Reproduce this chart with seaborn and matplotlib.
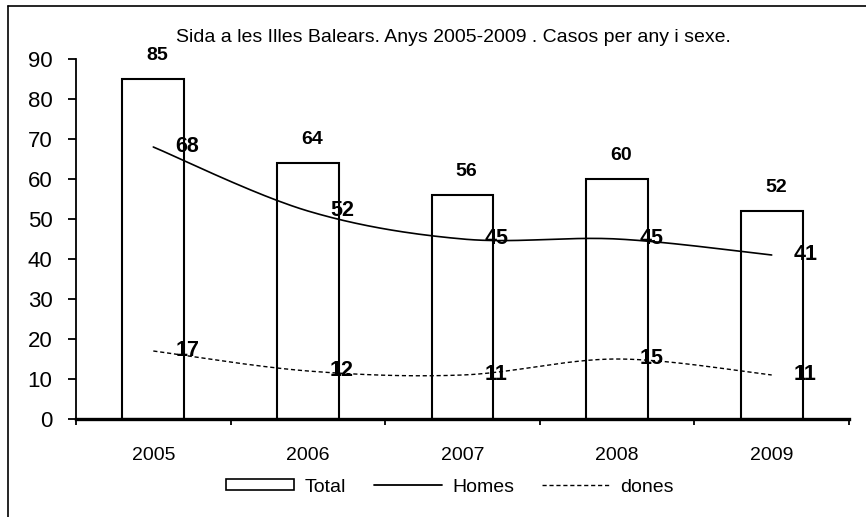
import numpy as np
import pandas as pd
import matplotlib
matplotlib.use("Agg")
import matplotlib.pyplot as plt
import seaborn as sns
from matplotlib.patches import Patch
from matplotlib.lines import Line2D

# dades
anys = ['2005', '2006', '2007', '2008', '2009']
total = [85, 64, 56, 60, 52]
homes = [68, 52, 45, 45, 41]
dones = [17, 12, 11, 15, 11]
titol = 'Sida a les Illes Balears. Anys 2005-2009 . Casos per any i sexe.'

sns.set_theme(style='white')
plt.rcParams['font.family'] = ['Liberation Sans', 'DejaVu Sans']
plt.rcParams['text.color'] = 'black'
plt.rcParams['xtick.color'] = 'black'
plt.rcParams['ytick.color'] = 'black'
plt.rcParams['axes.labelcolor'] = 'black'


def suavitzar(vals, n=40):
    # corba suau tipus Excel (Catmull-Rom / Bezier) pels punts
    p = np.array(vals, dtype=float)
    x = np.arange(len(p), dtype=float)
    pts = np.column_stack([x, p])
    ext = np.vstack([pts[0], pts, pts[-1]])
    xs, ys = [], []
    t = np.linspace(0, 1, n)
    for i in range(len(pts) - 1):
        p0, p1, p2, p3 = ext[i], ext[i + 1], ext[i + 2], ext[i + 3]
        c1 = p1 + (p2 - p0) / 6
        c2 = p2 - (p3 - p1) / 6
        seg = ((1 - t) ** 3)[:, None] * p1 + (3 * (1 - t) ** 2 * t)[:, None] * c1 \
            + (3 * (1 - t) * t ** 2)[:, None] * c2 + (t ** 3)[:, None] * p2
        xs.extend(seg[:, 0])
        ys.extend(seg[:, 1])
    return np.array(xs), np.array(ys)


fig = plt.figure(figsize=(8.66, 5.17), dpi=100)
ax = fig.add_axes([76 / 866, 1 - 419 / 517, (849 - 76) / 866, (419 - 59) / 517])

df = pd.DataFrame({'any': anys, 'total': total})
sns.barplot(data=df, x='any', y='total', color='white', edgecolor='black',
            linewidth=1.5, width=0.4, ax=ax, saturation=1)

xh, yh = suavitzar(homes)
sns.lineplot(x=xh, y=yh, color='black', linewidth=1.2, ax=ax, sort=False)
xd, yd = suavitzar(dones)
ax.plot(xd, yd, color='black', linewidth=1.0, linestyle=(0, (3, 2)))

for i, v in enumerate(total):
    ax.annotate(str(v), (i, v), xytext=(3, 11), textcoords='offset points',
                ha='center', va='bottom', fontsize=14, fontweight='bold', color='black')
for serie in (homes, dones):
    for i, v in enumerate(serie):
        ax.annotate(str(v), (i, v), xytext=(16, 0), textcoords='offset points',
                    ha='left', va='center', fontsize=15.5, fontweight='bold', color='black')

ax.set_xlim(-0.5, 4.5)
ax.set_ylim(0, 90)
ax.set_yticks(range(0, 91, 10))
ax.set_xlabel('')
ax.set_ylabel('')
ax.set_xticks(range(5))
ax.set_xticklabels(anys)
ax.set_xticks(np.arange(-0.5, 5, 1), minor=True)
ax.tick_params(axis='x', which='major', length=0, pad=20, labelsize=14, labelcolor='black')
ax.tick_params(axis='x', which='minor', length=4, width=1.3, direction='out', bottom=True)
ax.tick_params(axis='y', length=6, width=1.3, direction='out', pad=11, labelsize=16,
               left=True, labelcolor='black')
for s in ['top', 'right']:
    ax.spines[s].set_visible(False)
ax.spines['left'].set_linewidth(1.3)
ax.spines['bottom'].set_linewidth(2.4)
ax.spines['left'].set_color('black')
ax.spines['bottom'].set_color('black')

fig.text(453 / 866, 1 - 38 / 517, titol, ha='center', va='center', fontsize=14, color='black')

handles = [Patch(facecolor='white', edgecolor='black', linewidth=1.2, label='Total'),
           Line2D([], [], color='black', linewidth=1.3, label='Homes'),
           Line2D([], [], color='black', linewidth=1.0, linestyle=(0, (3, 2)), label='dones')]
fig.legend(handles=handles, loc='center', bbox_to_anchor=(450 / 866, 1 - 487 / 517),
           ncol=3, frameon=False, fontsize=14, handlelength=3.5, handleheight=0.45,
           handletextpad=0.55, columnspacing=1.4, labelcolor='black')

# marc de la figura (només esquerra i dalt visibles)
fig.add_artist(Line2D([8 / 866, 8 / 866], [0, 1 - 6 / 517], color='black', linewidth=1.2,
                      transform=fig.transFigure))
fig.add_artist(Line2D([8 / 866, 1], [1 - 6 / 517, 1 - 6 / 517], color='black', linewidth=1.2,
                      transform=fig.transFigure))

fig.savefig('out.png', dpi=100)
